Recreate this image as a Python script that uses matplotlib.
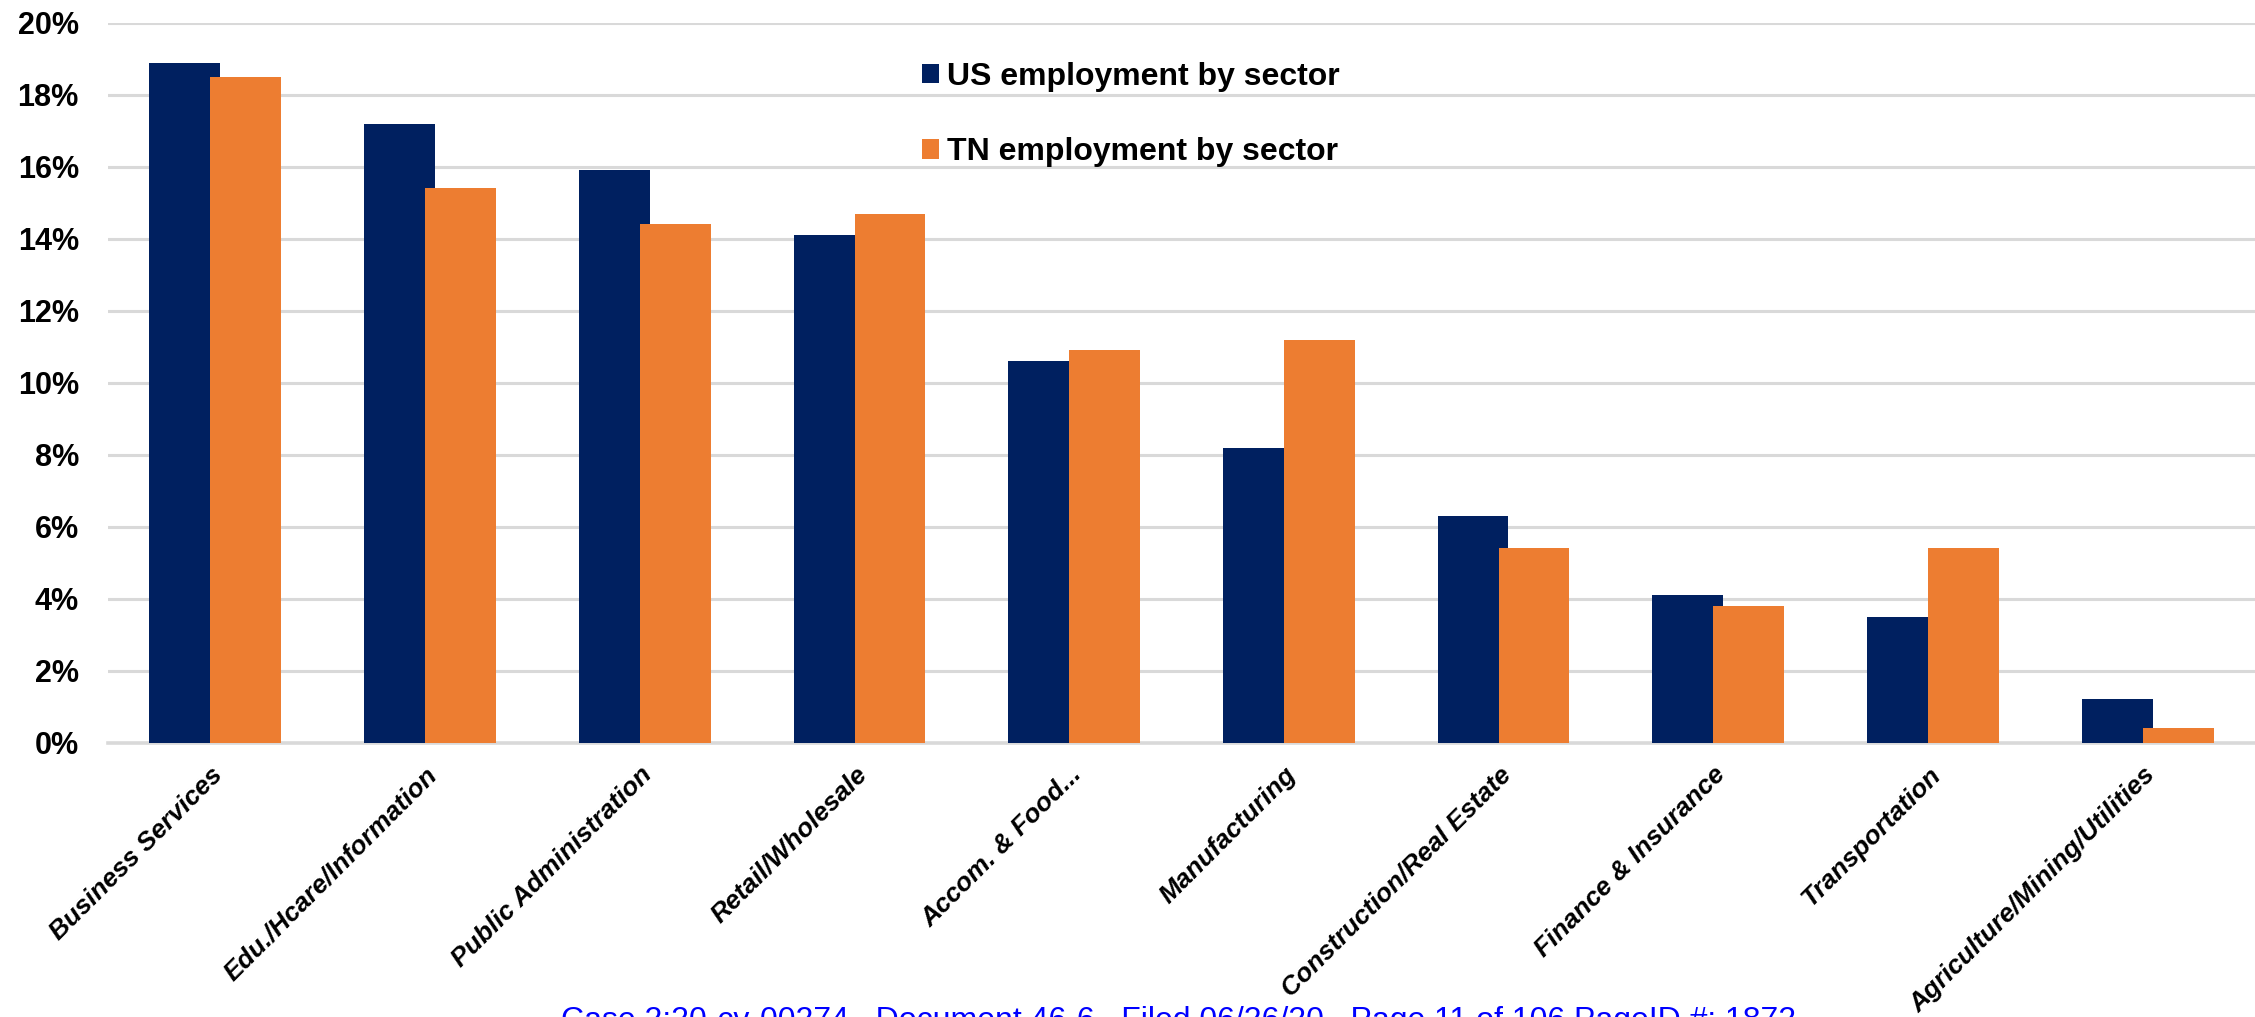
import matplotlib
matplotlib.use("Agg")
import matplotlib.pyplot as plt
import matplotlib.transforms as mtransforms
import numpy as np

sectors = [
    "Business Services",
    "Edu./Hcare/Information",
    "Public Administration",
    "Retail/Wholesale",
    "Accom. & Food...",
    "Manufacturing",
    "Construction/Real Estate",
    "Finance & Insurance",
    "Transportation",
    "Agriculture/Mining/Utilities",
]
us_share = [18.9, 17.2, 15.9, 14.1, 10.6, 8.2, 6.3, 4.1, 3.5, 1.2]
tn_share = [18.5, 15.4, 14.4, 14.7, 10.9, 11.2, 5.4, 3.8, 5.4, 0.4]
series_names = ["US employment by sector", "TN employment by sector"]
y_ticks = [0, 2, 4, 6, 8, 10, 12, 14, 16, 18, 20]
footer = "Case 2:20-cv-00274   Document 46-6   Filed 06/26/20   Page 11 of 106 PageID #: 1872"

NAVY = "#002060"
ORANGE = "#ED7D31"
GRID = "#d9d9d9"

plt.rcParams["font.family"] = ["Liberation Sans", "DejaVu Sans"]

W, H = 2255, 1017
fig = plt.figure(figsize=(W / 100, H / 100), dpi=100)
fig.patch.set_facecolor("white")

left, right, top, bottom = 108 / W, 1.0, 1 - 23 / H, 1 - 742.5 / H
ax = fig.add_axes([left, bottom, right - left, top - bottom])
ax.set_facecolor("none")

x = np.arange(len(sectors))
width = 0.33
offset = 0.142
ax.bar(x - offset, us_share, width, color=NAVY, label=series_names[0], zorder=3)
ax.bar(x + offset, tn_share, width, color=ORANGE, label=series_names[1], zorder=4)

ax.set_xlim(-0.5, len(sectors) - 0.5)
ax.set_ylim(0, 20)
ax.set_yticks(y_ticks)
ax.set_yticklabels([f"{t}%" for t in y_ticks], fontsize=22, fontweight="bold")
ax.tick_params(axis="y", length=0, pad=21)
ax.tick_params(axis="x", length=0, pad=0)
ax.yaxis.grid(True, color=GRID, linewidth=2.2, zorder=0)
ax.set_axisbelow(True)
for s in ["top", "right", "left"]:
    ax.spines[s].set_visible(False)
ax.spines["bottom"].set_color(GRID)
ax.spines["bottom"].set_linewidth(2.6)

ax.set_xticks(x)
ax.set_xticklabels(sectors, rotation=45, ha="right", va="top",
                   rotation_mode="anchor", fontsize=19,
                   fontweight="bold", fontstyle="italic")
shift = mtransforms.ScaledTranslation(-5 / 100, -20 / 100, fig.dpi_scale_trans)
for lbl in ax.get_xticklabels():
    lbl.set_transform(lbl.get_transform() + shift)

leg = ax.legend(loc="upper left", bbox_to_anchor=(922 / W, 1 - 62 / H),
                bbox_transform=fig.transFigure, frameon=False,
                prop={"weight": "bold", "size": 23},
                handlelength=0.53, handleheight=0.55, handletextpad=0.25,
                labelspacing=1.42, borderpad=0, borderaxespad=0)

fig.text(561 / W, 1 - 1006 / H, footer, color="#0000ff", fontsize=23,
         ha="left", va="top")

fig.savefig("out.png", dpi=100, facecolor="white")
